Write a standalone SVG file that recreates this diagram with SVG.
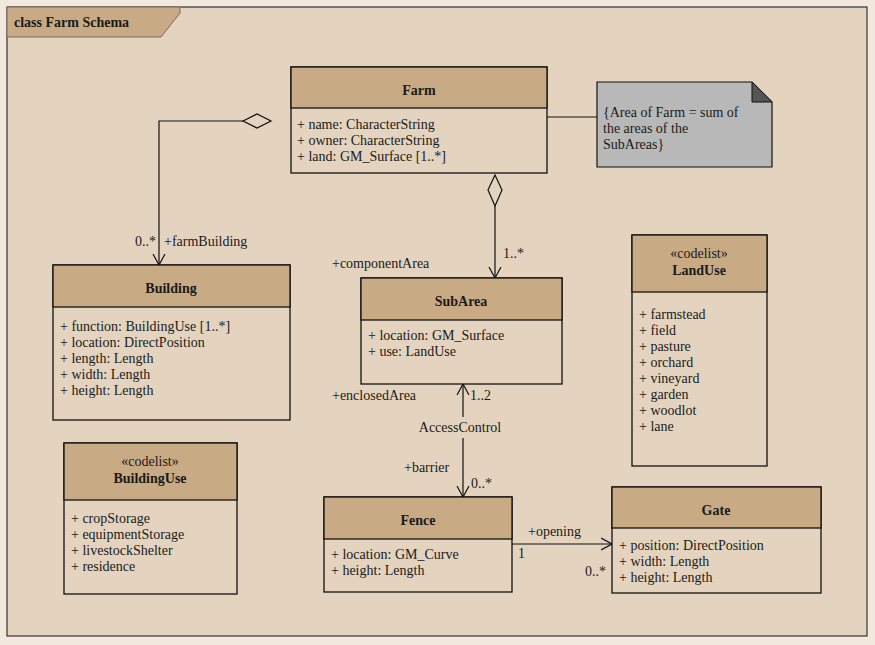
<svg xmlns="http://www.w3.org/2000/svg" width="875" height="645" viewBox="0 0 875 645">
<style>
text{font-family:"Liberation Serif","Times New Roman",serif;font-size:14px;fill:#1a1a1a}
.b{font-weight:bold}
.c{text-anchor:middle}
.box{fill:#e4d4bf;stroke:#111;stroke-width:1.3}
.hd{fill:#c8aa84;stroke:#111;stroke-width:1.3}
.ln{fill:none;stroke:#111;stroke-width:1.2}
</style>
<defs>
<marker id="op" markerWidth="12" markerHeight="16" refX="11" refY="8" orient="auto" markerUnits="userSpaceOnUse"><path d="M0,2 L11,8 L0,14" fill="none" stroke="#111" stroke-width="1.2"/></marker>
</defs>
<rect width="875" height="645" fill="#f2e8dd"/>
<rect x="7" y="7" width="860" height="629" fill="#e4d4bf" stroke="#333" stroke-width="1.2"/>
<path d="M7,7 H180 V13 L161,37 H7 Z" fill="#c8aa84" stroke="#7a6a58" stroke-width="1"/>
<text x="14" y="27" class="b">class Farm Schema</text>
<g id="connectors">
<path class="ln" d="M243,121 H159 V265" marker-end="url(#op)"/>
<path d="M243,121 L257,114 L271,121 L257,128 Z" fill="#e4d4bf" stroke="#111" stroke-width="1.2"/>
<path class="ln" d="M495,206 V278" marker-end="url(#op)"/>
<path d="M495,175 L502,190 L495,206 L488,190 Z" fill="#e4d4bf" stroke="#111" stroke-width="1.2"/>
<path class="ln" d="M547,117 H597"/>
<path class="ln" d="M463,417 V384" marker-end="url(#op)"/>
<path class="ln" d="M463,438 V497" marker-end="url(#op)"/>
<path class="ln" d="M512,544 H612" marker-end="url(#op)"/>
<text x="156" y="246" text-anchor="end">0..*</text>
<text x="164" y="246">+farmBuilding</text>
<text x="503" y="258">1..*</text>
<text x="332" y="268">+componentArea</text>
<text x="332" y="400">+enclosedArea</text>
<text x="470" y="400">1..2</text>
<text x="460" y="432" class="c">AccessControl</text>
<text x="404" y="472">+barrier</text>
<text x="471" y="488">0..*</text>
<text x="528" y="536">+opening</text>
<text x="518" y="558">1</text>
<text x="585" y="576">0..*</text>
</g>
<g id="farm">
<rect class="box" x="291" y="67" width="256" height="106"/>
<rect class="hd" x="291" y="67" width="256" height="41"/>
<text x="419" y="95" class="b c">Farm</text>
<text x="297" y="129">+ name:  CharacterString</text>
<text x="297" y="145">+ owner:  CharacterString</text>
<text x="297" y="161">+ land:  GM_Surface [1..*]</text>
</g>
<g id="note">
<path d="M597,82 H752 L772,102 V167 H597 Z" fill="#b8b8b8" stroke="#111" stroke-width="1.2"/>
<path d="M752,82 V102 H772 Z" fill="#555" stroke="#111" stroke-width="1"/>
<text x="603" y="117">{Area of Farm = sum of</text>
<text x="603" y="133">the areas of the</text>
<text x="603" y="149">SubAreas}</text>
</g>
<g id="building">
<rect class="box" x="53" y="265" width="237" height="155"/>
<rect class="hd" x="53" y="265" width="237" height="42"/>
<text x="171" y="293" class="b c">Building</text>
<text x="60" y="331">+ function:  BuildingUse [1..*]</text>
<text x="60" y="347">+ location:  DirectPosition</text>
<text x="60" y="363">+ length:  Length</text>
<text x="60" y="379">+ width:  Length</text>
<text x="60" y="395">+ height:  Length</text>
</g>
<g id="subarea">
<rect class="box" x="361" y="278" width="201" height="106"/>
<rect class="hd" x="361" y="278" width="201" height="42"/>
<text x="461" y="306" class="b c">SubArea</text>
<text x="368" y="340">+ location:  GM_Surface</text>
<text x="368" y="356">+ use:  LandUse</text>
</g>
<g id="landuse">
<rect class="box" x="632" y="235" width="135" height="231"/>
<rect class="hd" x="632" y="235" width="135" height="57"/>
<text x="699" y="258" class="c" font-size="13">«codelist»</text>
<text x="699" y="275" class="b c">LandUse</text>
<text x="639" y="319">+ farmstead</text>
<text x="639" y="335">+ field</text>
<text x="639" y="351">+ pasture</text>
<text x="639" y="367">+ orchard</text>
<text x="639" y="383">+ vineyard</text>
<text x="639" y="399">+ garden</text>
<text x="639" y="415">+ woodlot</text>
<text x="639" y="431">+ lane</text>
</g>
<g id="buildinguse">
<rect class="box" x="64" y="443" width="173" height="151"/>
<rect class="hd" x="64" y="443" width="173" height="57"/>
<text x="150" y="466" class="c" font-size="13">«codelist»</text>
<text x="150" y="483" class="b c">BuildingUse</text>
<text x="71" y="523">+ cropStorage</text>
<text x="71" y="539">+ equipmentStorage</text>
<text x="71" y="555">+ livestockShelter</text>
<text x="71" y="571">+ residence</text>
</g>
<g id="fence">
<rect class="box" x="324" y="497" width="188" height="95"/>
<rect class="hd" x="324" y="497" width="188" height="42"/>
<text x="418" y="525" class="b c">Fence</text>
<text x="331" y="559">+ location:  GM_Curve</text>
<text x="331" y="575">+ height:  Length</text>
</g>
<g id="gate">
<rect class="box" x="612" y="487" width="209" height="106"/>
<rect class="hd" x="612" y="487" width="209" height="41"/>
<text x="716" y="515" class="b c">Gate</text>
<text x="619" y="550">+ position:  DirectPosition</text>
<text x="619" y="566">+ width:  Length</text>
<text x="619" y="582">+ height:  Length</text>
</g>
</svg>
